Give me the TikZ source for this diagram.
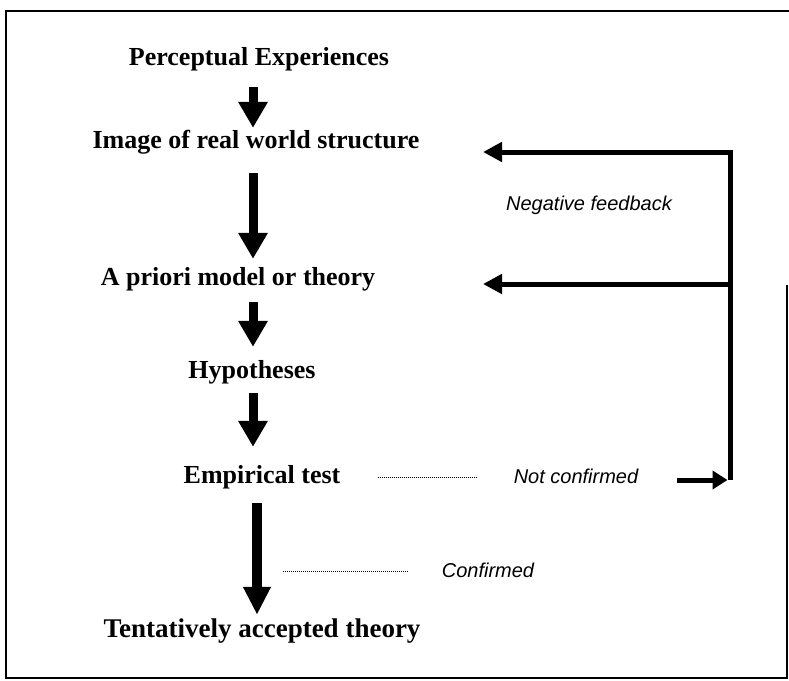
\documentclass[tikz,border=0pt]{standalone}
\usepackage{fontspec}
\setmainfont{Liberation Serif}
\newfontfamily\lsans{Liberation Sans}
\usetikzlibrary{arrows.meta}
\begin{document}
\begin{tikzpicture}[x=1pt,y=-1pt,
  stage/.style={inner sep=0pt, anchor=base, font=\fontsize{26}{28}\selectfont\bfseries, text height=18pt, text depth=6pt},
  note/.style={inner sep=0pt, anchor=base, font=\fontsize{20}{22}\selectfont\lsans\itshape, text height=15pt, text depth=4pt},
  bigarr/.style={line width=9pt, -{Triangle[width=28pt,length=26pt]}},
  fbline/.style={line width=5pt, line join=miter},
  fbarr/.style={line width=5pt, {Triangle[width=19pt,length=19pt]}-},
  ncarr/.style={line width=5pt, -{Triangle[width=18pt,length=15pt]}},
  dots/.style={line width=0.9pt, dash pattern=on 0.9pt off 1.1pt},
  frame/.style={line width=1.3pt}]
\useasboundingbox (0,0) rectangle (789,680);
% frame
\draw[frame] (789,11) -- (6,11) -- (6,678) -- (787,678) -- (787,285);
% stages
\node[stage] (pe)   at (259,65)  {Perceptual Experiences};
\node[stage] (img)  at (256,148) {Image of real world structure};
\node[stage] (apr)  at (238,285) {A priori model or theory};
\node[stage] (hyp)  at (252,378) {Hypotheses};
\node[stage] (emp)  at (262,483) {Empirical test};
\node[stage, font=\fontsize{27}{29}\selectfont\bfseries] (tent) at (262,637) {Tentatively accepted theory};
% notes
\node[note] (nf)   at (589,210) {Negative feedback};
\node[note] (nc)   at (576,483) {Not confirmed};
\node[note] (conf) at (488,577) {Confirmed};
% column coordinates
\coordinate (c1) at (253,0);
\coordinate (c5) at (257,0);
% main arrows
\draw[bigarr, shorten <=16pt, shorten >=2pt]  (pe.south -| c1)  -- (img.north -| c1);
\draw[bigarr, shorten <=19pt, shorten >=8pt]  (img.south -| c1) -- (apr.north -| c1);
\draw[bigarr, shorten <=11pt, shorten >=13pt] (apr.south -| c1) -- (hyp.north -| c1);
\draw[bigarr, shorten <=9pt, shorten >=18pt]  (hyp.south -| c1) -- (emp.north -| c1);
\draw[bigarr, line width=10pt, -{Triangle[width=26pt,length=28pt]}, shorten <=14pt, shorten >=4pt] (emp.south -| c5) -- (tent.north -| c5);
% feedback loop
\coordinate (fbtop) at (730,152);
\coordinate (fbmid) at (730,284);
\coordinate (fbbot) at (730,480);
\coordinate (tip1) at (483,152);
\coordinate (tip2) at (483,284);
\draw[fbline, fbarr] (tip1) -- (fbtop) -- (fbbot);
\draw[fbarr] (tip2) -- (fbmid);
\draw[ncarr, shorten <=39pt, shorten >=2.5pt] (nc.east |- fbbot) -- (fbbot);
% dotted leaders
\draw[dots, shorten <=37pt, shorten >=37pt] (emp.east) -- (emp.east -| nc.west);
\draw[dots, shorten <=34pt, shorten >=25pt] (conf.west) -- (conf.west -| c5);
\end{tikzpicture}
\end{document}
